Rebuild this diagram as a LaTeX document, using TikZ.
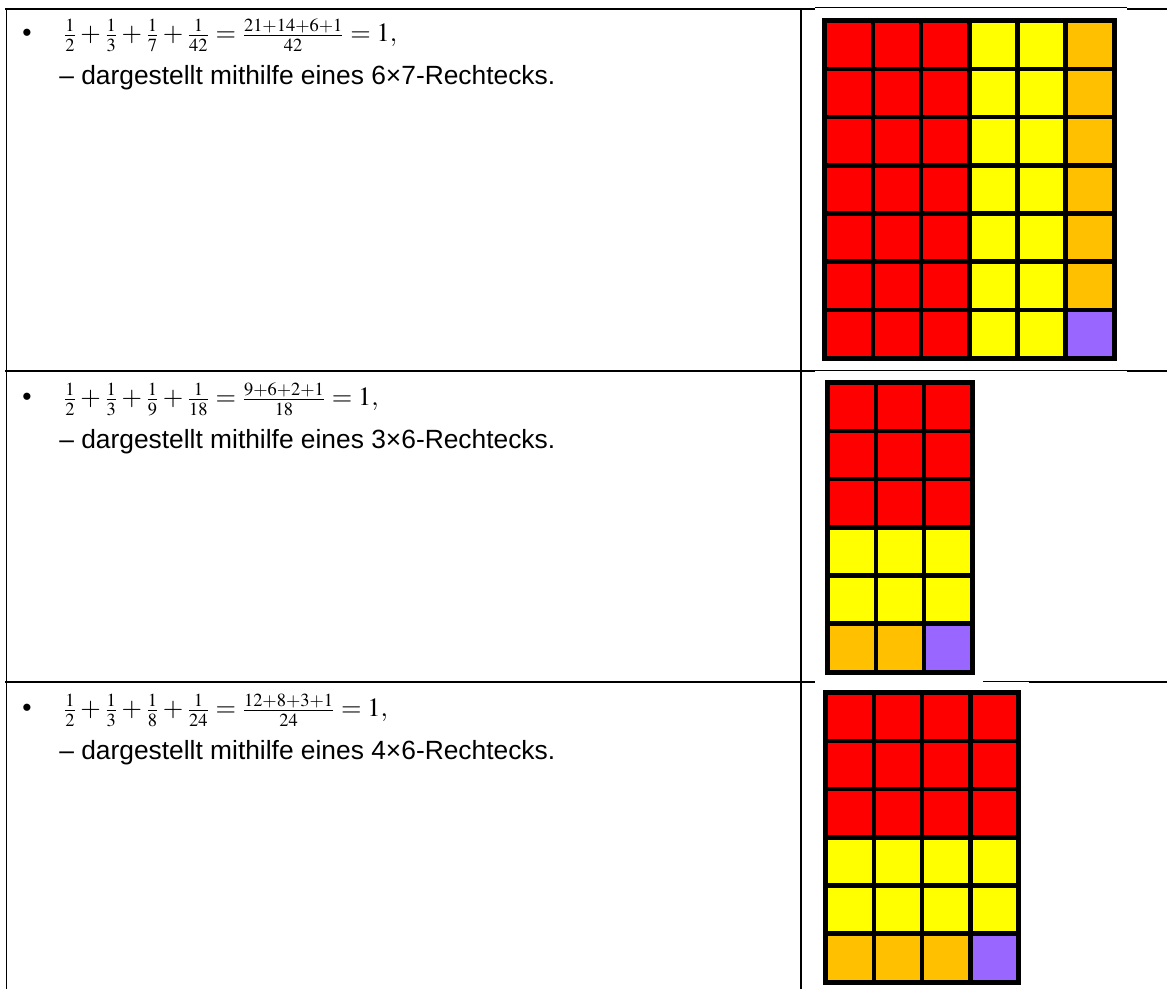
\documentclass[tikz,border=0pt]{standalone}
\usepackage{mathptmx}
\usepackage[no-math]{fontspec}
\usepackage{tikz}
\usepackage{xcolor}
\usetikzlibrary{positioning}
\newfontfamily\arialfont{Liberation Sans}
\DeclareMathSizes{15}{15}{10.5}{7.5}
\definecolor{SqRed}{HTML}{FF0000}
\definecolor{SqYellow}{HTML}{FFFF00}
\definecolor{SqOrange}{HTML}{FFC000}
\definecolor{SqViolet}{HTML}{9966FF}

\begin{document}
\begin{tikzpicture}[
    x=0.02cm, y=-0.02cm,
    rule/.style={line width=0.04cm, black},
    thinrule/.style={line width=0.02cm, black},
    frame/.style={fill=black},
    bulletmark/.style={font=\arialfont\fontsize{15}{18}\selectfont, anchor=base, inner sep=0pt},
    sumeq/.style={font=\fontsize{15}{18}\selectfont, anchor=base west, inner sep=0pt},
    caption/.style={font=\arialfont\fontsize{15}{18}\selectfont, anchor=base west, inner sep=0pt}
]
\useasboundingbox (0,0) rectangle (1167,989);

% === Table rules ===
\draw[rule] (5,9) -- (815,9);
\draw[thinrule] (815,8) -- (1127,8);
\draw[rule] (1127,9) -- (1167,9);
\draw[rule] (5,371) -- (815,371);
\draw[thinrule] (815,371) -- (1127,371);
\draw[rule] (1127,371) -- (1167,371);
\draw[rule] (5,682) -- (815,682);
\draw[thinrule] (983,682) -- (1029,682);
\draw[rule] (1029,682) -- (1167,682);
\draw[rule] (6.5,8) -- (6.5,989);
\draw[rule] (801,8) -- (801,989);

% === Row 1: 6x7 ===
\node[bulletmark] (b1) at (27,42) {\textbullet};
\node[sumeq] (eq1) at (63,42)
  {$\frac{1}{2}+\frac{1}{3}+\frac{1}{7}+\frac{1}{42}=\frac{21+14+6+1}{42}=1,$};
\node[caption] (cap1) at (59,85) {\textendash\ dargestellt mithilfe eines 6\texttimes7-Rechtecks.};

\fill[frame] (822,18) rectangle (1117,361);
\foreach \r in {0,...,5}
  \foreach \c/\f in {0/SqRed,1/SqRed,2/SqRed,3/SqYellow,4/SqYellow,5/SqOrange}
    \fill[\f] ({827+\c*48.2},{23+\r*48.2}) rectangle ++(43.6,43.6);
\foreach \c/\f in {0/SqRed,1/SqRed,2/SqRed,3/SqYellow,4/SqYellow,5/SqViolet}
  \fill[\f] ({827+\c*48.2},{23+6*48.2}) rectangle ++(43.6,43.6);

% === Row 2: 3x6 ===
\node[bulletmark] (b2) at (27,406) {\textbullet};
\node[sumeq] (eq2) at (63,406)
  {$\frac{1}{2}+\frac{1}{3}+\frac{1}{9}+\frac{1}{18}=\frac{9+6+2+1}{18}=1,$};
\node[caption] (cap2) at (59,449) {\textendash\ dargestellt mithilfe eines 3\texttimes6-Rechtecks.};

\fill[frame] (825,380) rectangle (975,675);
\foreach \r/\f in {0/SqRed,1/SqRed,2/SqRed,3/SqYellow,4/SqYellow}
  \foreach \c in {0,1,2}
    \fill[\f] ({830+\c*48.2},{385+\r*48.2}) rectangle ++(43.6,43.6);
\foreach \c/\f in {0/SqOrange,1/SqOrange,2/SqViolet}
  \fill[\f] ({830+\c*48.2},{385+5*48.2}) rectangle ++(43.6,43.6);

% === Row 3: 4x6 ===
\node[bulletmark] (b3) at (27,717) {\textbullet};
\node[sumeq] (eq3) at (63,717)
  {$\frac{1}{2}+\frac{1}{3}+\frac{1}{8}+\frac{1}{24}=\frac{12+8+3+1}{24}=1,$};
\node[caption] (cap3) at (59,760) {\textendash\ dargestellt mithilfe eines 4\texttimes6-Rechtecks.};

\fill[frame] (823,690) rectangle (1021,985);
\foreach \r/\f in {0/SqRed,1/SqRed,2/SqRed,3/SqYellow,4/SqYellow}
  \foreach \c in {0,...,3}
    \fill[\f] ({828+\c*48.2},{695+\r*48.2}) rectangle ++(43.6,43.6);
\foreach \c/\f in {0/SqOrange,1/SqOrange,2/SqOrange,3/SqViolet}
  \fill[\f] ({828+\c*48.2},{695+5*48.2}) rectangle ++(43.6,43.6);
\end{tikzpicture}
\end{document}
